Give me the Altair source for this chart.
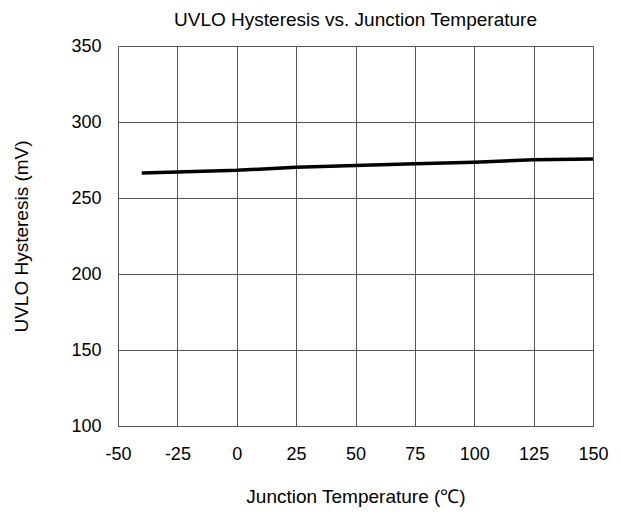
import altair as alt
import pandas as pd

temps = [-40, -25, 0, 25, 50, 75, 100, 125, 150]
hyst = [266.5, 267.1, 268.2, 270.2, 271.3, 272.6, 273.5, 275.2, 275.7]
x_ticks = [-50, -25, 0, 25, 50, 75, 100, 125, 150]
y_ticks = [100, 150, 200, 250, 300, 350]

df = pd.DataFrame({"t": temps, "h": hyst})
FONT = "Liberation Sans"

chart = alt.Chart(df).mark_line(color="black", strokeWidth=3.5).encode(
    x=alt.X("t:Q", scale=alt.Scale(domain=[-50, 150], nice=False),
            axis=alt.Axis(values=x_ticks, title="Junction Temperature (℃)",
                          labelExpr="datum.value + ''", labelFlush=False,
                          ticks=False, tickSize=0, labelPadding=19, titlePadding=24,
                          grid=True, gridColor="#555", gridWidth=1,
                          domain=False, labelFontSize=18, titleFontSize=19,
                          labelColor="black", titleColor="black",
                          titleFontWeight="normal", labelFont=FONT, titleFont=FONT)),
    y=alt.Y("h:Q", scale=alt.Scale(domain=[100, 350], nice=False),
            axis=alt.Axis(values=y_ticks, title="UVLO Hysteresis (mV)",
                          labelFlush=False,
                          ticks=False, tickSize=0, labelPadding=17, titlePadding=39,
                          grid=True, gridColor="#555", gridWidth=1,
                          domain=False, labelFontSize=18, titleFontSize=19,
                          labelColor="black", titleColor="black",
                          titleFontWeight="normal", labelFont=FONT, titleFont=FONT)),
).properties(
    width=475, height=380,
    title=alt.TitleParams("UVLO Hysteresis vs. Junction Temperature", fontSize=19,
                          font=FONT, fontWeight="normal", color="black", offset=7),
    autosize=alt.AutoSizeParams(type="none"),
    padding={"left": 110, "top": 38, "right": 20, "bottom": 86},
).configure_view(stroke="black", strokeWidth=2).configure(background="white")

chart.save("out.html", embed_options={"renderer": "svg", "actions": False})
